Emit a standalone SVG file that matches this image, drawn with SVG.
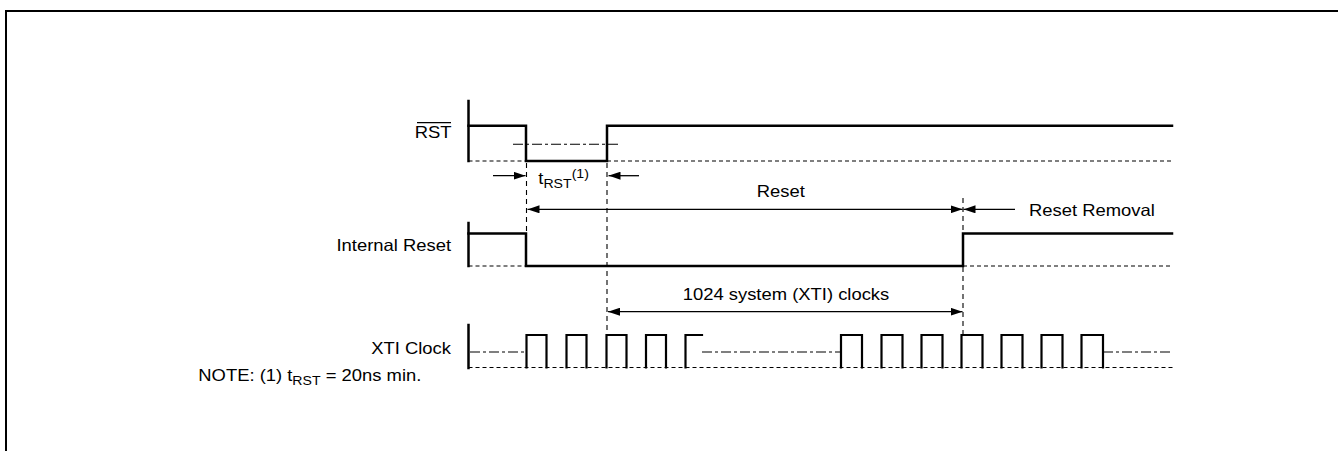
<svg xmlns="http://www.w3.org/2000/svg" width="1338" height="451" viewBox="0 0 1338 451">
<style>
text{font-family:"Liberation Sans",Arial,sans-serif;font-size:16.3px;fill:#000}
.sig{fill:none;stroke:#000;stroke-width:2.5;stroke-linejoin:miter;stroke-linecap:square}
.clk{fill:none;stroke:#000;stroke-width:2.2;stroke-linecap:square}
.base{fill:none;stroke:#000;stroke-width:1.2;stroke-dasharray:4,3}
.dd{fill:none;stroke:#000;stroke-width:1.1;stroke-dasharray:10,3,3,3}
.vguide{fill:none;stroke:#000;stroke-width:1.1;stroke-dasharray:5,4}
.arr{fill:none;stroke:#000;stroke-width:1.3}
.sub{font-size:12.5px}
</style>
<defs>
<marker id="ah" viewBox="0 0 12 8" refX="12" refY="4" markerWidth="12" markerHeight="8" markerUnits="userSpaceOnUse" orient="auto">
<path d="M0,0 L12,4 L0,8 Z" fill="#000"/>
</marker>
</defs>
<rect x="0" y="0" width="1338" height="451" fill="#fff"/>
<path d="M6,451 V11 H1338" fill="none" stroke="#000" stroke-width="2"/>

<g id="rst">
<text transform="translate(451.5,138.3) scale(1.13,1)" text-anchor="end">RST</text>
<line x1="417" y1="122.7" x2="451" y2="122.7" stroke="#000" stroke-width="1.2"/>
<path class="sig" d="M468.5,101 V161"/>
<path class="sig" d="M468.5,125.7 H526 V161 H607 V125.7 H1172"/>
<path class="base" d="M468.5,161 H526 M607,161 H1172"/>
<path class="dd" d="M513,144.3 H620"/>
</g>

<g id="internal-reset">
<text transform="translate(451,251) scale(1.13,1)" text-anchor="end">Internal Reset</text>
<path class="sig" d="M468.5,223 V266"/>
<path class="sig" d="M468.5,233.5 H526 V266 H963 V233.5 H1172"/>
<path class="base" d="M468.5,266 H526 M963,266 H1172"/>
</g>

<g id="xti-clock">
<text transform="translate(451,354) scale(1.13,1)" text-anchor="end">XTI Clock</text>
<path class="sig" d="M468.5,325 V368"/>
<path class="base" d="M468.5,367.5 H1173"/>
<path class="dd" d="M470,352 H526 M702,352 H841 M1103,352 H1173"/>
<path class="clk" d="M526.5,367.5 V335 H546.5 V367.5 M566.5,367.5 V335 H586.5 V367.5 M606.5,367.5 V335 H626.5 V367.5 M646,367.5 V335 H666 V367.5 M685.5,367.5 V335 H702"/>
<path class="clk" d="M841,367.5 V335 H862 V367.5 M881.5,367.5 V335 H902.5 V367.5 M921.5,367.5 V335 H942.5 V367.5 M961.5,367.5 V335 H982.5 V367.5 M1001.5,367.5 V335 H1022.5 V367.5 M1041.5,367.5 V335 H1062.5 V367.5 M1081.5,367.5 V335 H1103 V367.5"/>
</g>

<g id="connectors">
<path class="vguide" d="M526.5,163 V233"/>
<path class="vguide" d="M607,163 V334"/>
<path class="vguide" d="M963,198 V233 M963,267 V334"/>
<line class="arr" x1="493" y1="175.7" x2="525.5" y2="175.7" marker-end="url(#ah)"/>
<line class="arr" x1="639" y1="175.7" x2="608.5" y2="175.7" marker-end="url(#ah)"/>
<line class="arr" x1="745" y1="209.3" x2="527.5" y2="209.3" marker-end="url(#ah)"/>
<line class="arr" x1="745" y1="209.3" x2="962.5" y2="209.3" marker-end="url(#ah)"/>
<line class="arr" x1="1015" y1="209.3" x2="963.5" y2="209.3" marker-end="url(#ah)"/>
<line class="arr" x1="785" y1="311.7" x2="608" y2="311.7" marker-end="url(#ah)"/>
<line class="arr" x1="785" y1="311.7" x2="962.5" y2="311.7" marker-end="url(#ah)"/>
</g>

<g id="labels">
<text transform="translate(538.3,184) scale(1.13,1)">t<tspan class="sub" dy="3.5">RST</tspan><tspan class="sub" dy="-9.5">(1)</tspan></text>
<text transform="translate(756.7,197.3) scale(1.13,1)">Reset</text>
<text transform="translate(1029,216) scale(1.13,1)">Reset Removal</text>
<text transform="translate(682.7,300) scale(1.13,1)">1024 system (XTI) clocks</text>
<text transform="translate(198.3,380.7) scale(1.13,1)">NOTE: (1) t<tspan class="sub" dy="4">RST</tspan><tspan dy="-4"> = 20ns min.</tspan></text>
</g>
</svg>
